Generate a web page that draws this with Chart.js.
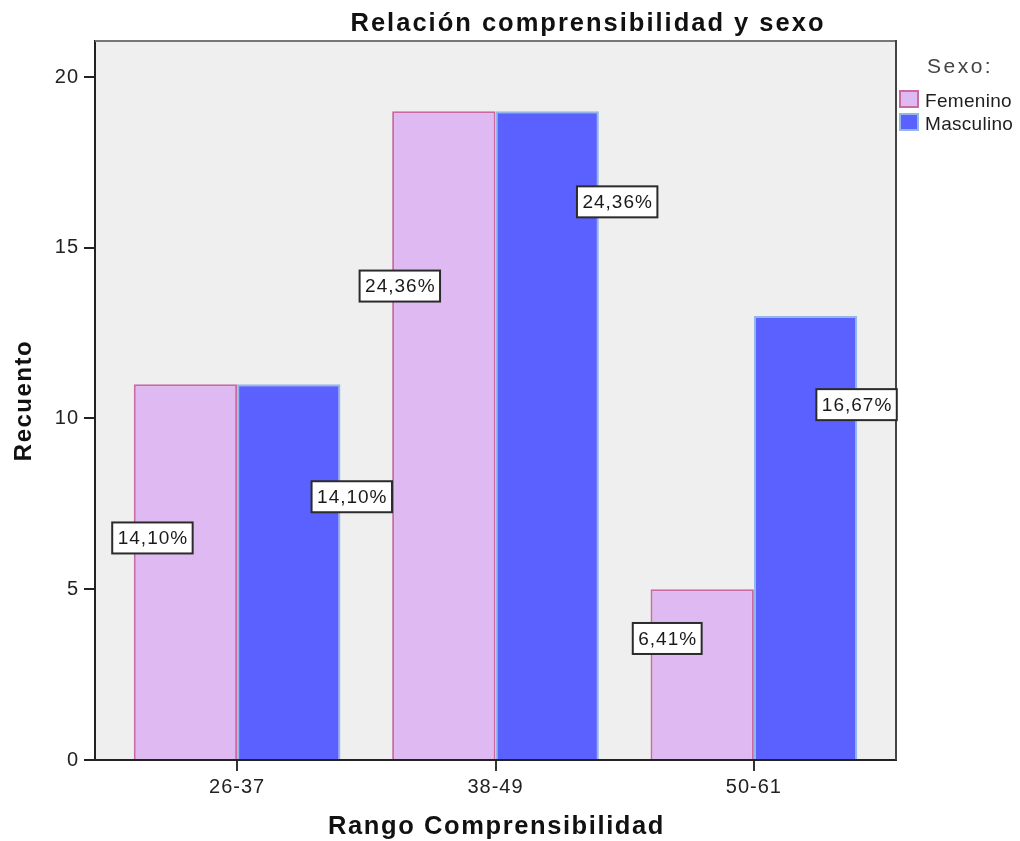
<!DOCTYPE html>
<html lang="es">
<head>
<meta charset="utf-8">
<title>Relación comprensibilidad y sexo</title>
<script src="https://cdn.jsdelivr.net/npm/chart.js@4.4.1/dist/chart.umd.min.js"></script>
<style>
  html, body { margin: 0; padding: 0; background: #fff; }
  canvas { display: block; }
</style>
</head>
<body>
<canvas id="chart" width="1020" height="841"></canvas>
<script>
// Counts per comprehensibility range, split by sex
const categories = ['26-37', '38-49', '50-61'];
const seriesNames = ['Femenino', 'Masculino'];
const femenino = [11, 19, 5];
const masculino = [11, 19, 13];
const yTicks = [0, 5, 10, 15, 20];

const chartTitle = 'Relación comprensibilidad y sexo';
const xTitle = 'Rango Comprensibilidad';
const yTitle = 'Recuento';
const legendTitle = 'Sexo:';

// Percent of the grand total, written with a decimal comma
const total = femenino.concat(masculino).reduce((a, b) => a + b, 0);
const pctText = v => (v / total * 100).toFixed(2).replace('.', ',') + '%';

const FAMILY = '"Liberation Sans", Arial, sans-serif';

function drawText(ctx, text, x, y, font, color, spacing, align, rotation) {
  ctx.save();
  ctx.font = font;
  ctx.fillStyle = color;
  ctx.letterSpacing = spacing + 'px';
  ctx.textAlign = align || 'left';
  ctx.textBaseline = 'alphabetic';
  ctx.translate(x, y);
  if (rotation) ctx.rotate(rotation);
  ctx.fillText(text, 0, 0);
  ctx.restore();
}

// Plot background, frame, value boxes, titles and legend
const decorations = {
  id: 'decorations',
  beforeUpdate(chart) { chart.ctx.letterSpacing = '1px'; },
  beforeDraw(chart) {
    const { ctx, chartArea: a } = chart;
    ctx.letterSpacing = '1px';
    ctx.save();
    ctx.fillStyle = '#efefef';
    ctx.fillRect(a.left, a.top, a.right - a.left, a.bottom - a.top);
    ctx.restore();
  },
  afterDatasetsDraw(chart, args, opts) {
    const { ctx, chartArea: a } = chart;
    // top and right edges of the frame
    ctx.save();
    ctx.lineWidth = 2;
    ctx.strokeStyle = '#777';
    ctx.beginPath();
    ctx.moveTo(a.left, a.top);
    ctx.lineTo(a.right, a.top);
    ctx.stroke();
    ctx.strokeStyle = '#444';
    ctx.beginPath();
    ctx.moveTo(a.right, a.top - 1);
    ctx.lineTo(a.right, a.bottom);
    ctx.stroke();
    ctx.restore();

    // percentage boxes
    chart.data.datasets.forEach((ds, di) => {
      const meta = chart.getDatasetMeta(di);
      const place = opts.labelPlacement[di];
      meta.data.forEach((bar, j) => {
        const v = ds.data[j].y;
        const text = pctText(v);
        const cx = bar.x + place.dx[j];
        const cy = bar.base - (bar.base - bar.y) * place.fy[j];
        ctx.save();
        ctx.font = '19px ' + FAMILY;
        ctx.letterSpacing = '1px';
        const w = ctx.measureText(text).width + 10;
        const h = 31;
        ctx.fillStyle = '#fff';
        ctx.fillRect(cx - w / 2, cy - h / 2, w, h);
        ctx.lineWidth = 2;
        ctx.strokeStyle = '#2b2b2b';
        ctx.strokeRect(cx - w / 2, cy - h / 2, w, h);
        ctx.fillStyle = '#1a1a1a';
        ctx.textAlign = 'center';
        ctx.textBaseline = 'middle';
        ctx.fillText(text, cx + 0.5, cy + 1);
        ctx.restore();
      });
    });
  },
  afterDraw(chart) {
    const { ctx, chartArea: a } = chart;
    drawText(ctx, chartTitle, 588, 31, 'bold 25.5px ' + FAMILY, '#111', 2, 'center');
    drawText(ctx, xTitle, (a.left + a.right) / 2 + 1, 834, 'bold 25.5px ' + FAMILY, '#111', 1.6, 'center');
    drawText(ctx, yTitle, 31, (a.top + a.bottom) / 2, 'bold 24px ' + FAMILY, '#111', 1.5, 'center', -Math.PI / 2);

    // legend
    drawText(ctx, legendTitle, 927, 73, '21px ' + FAMILY, '#444', 2.5, 'left');
    chart.data.datasets.forEach((ds, i) => {
      const y = 90 + i * 23;
      ctx.save();
      ctx.fillStyle = ds.backgroundColor;
      ctx.fillRect(899, y, 20, 18);
      ctx.lineWidth = 2;
      ctx.strokeStyle = ds.borderColor;
      ctx.strokeRect(900, y + 1, 18, 16);
      ctx.restore();
      drawText(ctx, ds.label, 925, y + 17, '19px ' + FAMILY, '#1e1e1e', 0.3, 'left');
    });
  }
};

const barData = values => values.map((v, i) => ({ x: i, y: v }));

new Chart(document.getElementById('chart'), {
  type: 'bar',
  data: {
    datasets: [
      {
        label: seriesNames[0],
        data: barData(femenino),
        backgroundColor: '#dfbaf2',
        borderColor: '#c96aa2',
        borderWidth: 2,
        categoryPercentage: 0.8,
        barPercentage: 1
      },
      {
        label: seriesNames[1],
        data: barData(masculino),
        backgroundColor: '#5b61ff',
        borderColor: '#93b8e6',
        borderWidth: 2,
        categoryPercentage: 0.8,
        barPercentage: 1
      }
    ]
  },
  options: {
    responsive: false,
    animation: false,
    events: [],
    layout: { padding: { top: 41, right: 124, left: 0, bottom: 0 } },
    plugins: {
      legend: { display: false },
      title: { display: false },
      tooltip: { enabled: false },
      decorations: {
        labelPlacement: [
          { dx: [-33, -44, -35], fy: [0.59, 0.73, 0.71] },
          { dx: [63, 70, 51], fy: [0.70, 0.86, 0.80] }
        ]
      }
    },
    scales: {
      x: {
        type: 'linear',
        min: -0.55,
        max: 2.55,
        offset: false,
        afterBuildTicks: s => { s.ticks = categories.map((c, i) => ({ value: i })); },
        afterFit: s => { s.height = 81; },
        ticks: {
          callback: v => categories[v],
          autoSkip: false,
          maxRotation: 0,
          padding: 4,
          color: '#222',
          font: { family: FAMILY, size: 20 }
        },
        grid: { offset: false, drawOnChartArea: false, drawTicks: true, tickLength: 11, color: '#333', lineWidth: 2 },
        border: { display: true, color: '#222', width: 2 }
      },
      y: {
        type: 'linear',
        min: 0,
        max: 21.054,
        afterBuildTicks: s => { s.ticks = yTicks.map(v => ({ value: v })); },
        afterFit: s => { s.width = 95; },
        ticks: {
          padding: 5,
          color: '#222',
          font: { family: FAMILY, size: 20 }
        },
        grid: { drawOnChartArea: false, drawTicks: true, tickLength: 11, color: '#222', lineWidth: 2 },
        border: { display: true, color: '#222', width: 2 }
      }
    }
  },
  plugins: [decorations]
});
</script>
</body>
</html>
